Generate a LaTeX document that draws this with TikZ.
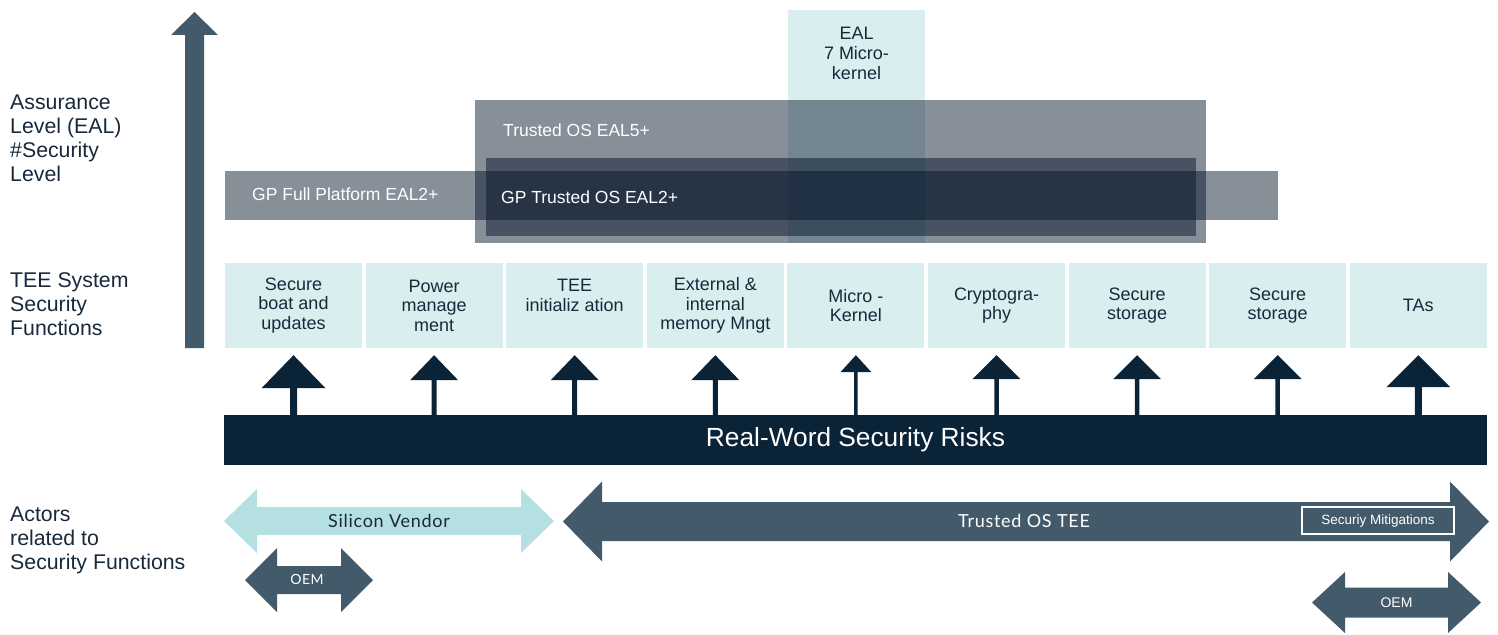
\documentclass[tikz,border=0pt]{standalone}
\usepackage{fontspec}
\setmainfont{Liberation Sans}
\newfontfamily\actorfont[LetterSpace=4.0]{Lato}
\usetikzlibrary{calc}

\definecolor{paleteal}{HTML}{DAEEF0}
\definecolor{lightteal}{HTML}{B5E0E2}
\definecolor{slate}{HTML}{435A6A}
\definecolor{deepnavy}{HTML}{0A2337}
\definecolor{inknavy}{HTML}{17293A}
\definecolor{tint}{RGB}{0,17,37}

% upward block arrow: #1 base, #2 tip, #3 half stem, #4 half head, #5 head length, #6 colour
\newcommand\riskarrow[6]{%
  \fill[#6] ($(#1)+(-#3,0)$) -- ($(#2)+(-#3,#5)$) -- ($(#2)+(-#4,#5)$) -- (#2)
    -- ($(#2)+(#4,#5)$) -- ($(#2)+(#3,#5)$) -- ($(#1)+(#3,0)$) -- cycle;}

% horizontal double block arrow: #1 left tip, #2 right tip, #3 half shaft, #4 half head, #5 head length, #6 colour
\newcommand\twowayarrow[6]{%
  \fill[#6] (#1) -- ($(#1)+(#5,-#4)$) -- ($(#1)+(#5,-#3)$) -- ($(#2)+(-#5,-#3)$)
    -- ($(#2)+(-#5,-#4)$) -- (#2) -- ($(#2)+(-#5,#4)$) -- ($(#2)+(-#5,#3)$)
    -- ($(#1)+(#5,#3)$) -- ($(#1)+(#5,#4)$) -- cycle;}

\begin{document}
\begin{tikzpicture}[x=1pt,y=-1pt,
  sidelabel/.style={anchor=west,align=left,inner sep=0pt,text=inknavy,
    font=\fontsize{21.3}{24}\selectfont},
  functext/.style={align=center,inner sep=0pt,text=inknavy,font=\fontsize{18}{19.5}\selectfont},
  funcbox/.style={functext,fill=paleteal,minimum width=137pt,minimum height=85pt},
  tintbox/.style={fill=tint,fill opacity=0.47,inner sep=0pt},
  boxlabel/.style={anchor=west,inner sep=0pt,text=white,font=\fontsize{17.5}{20}\selectfont},
  actor/.style={inner sep=0pt,font=\actorfont\fontsize{18}{20}\selectfont},
]
\useasboundingbox (0,0) rectangle (1498,634);

% assurance level axis
\coordinate (axis-base) at (194.5,348);
\coordinate (axis-tip) at (194.5,12);
\riskarrow{axis-base}{axis-tip}{9.5}{23.5}{23}{slate}

% row captions
\node[sidelabel] (lab-eal) at (10,138) {Assurance\\Level (EAL)\\\#Security\\Level};
\node[sidelabel] (lab-func) at (10,304) {TEE System\\Security\\Functions};
\node[sidelabel] (lab-act) at (10,540) {Actors\\related to\\Security Functions};

% certification levels
\node[fill=paleteal,minimum width=137pt,minimum height=233pt,inner sep=0pt] (eal7) at (856.5,126.5) {};
\node[align=center,inner sep=0pt,text=inknavy,font=\fontsize{18}{20}\selectfont] (eal7-txt) at (856.5,53) {EAL\\7 Micro-\\kernel};
\node[tintbox,minimum width=731pt,minimum height=143pt] (eal5) at (840.5,171.5) {};
\node[tintbox,minimum width=710pt,minimum height=78pt] (gptos) at (841,197) {};
\node[tintbox,minimum width=1053pt,minimum height=49pt] (gpfull) at (751.5,195.5) {};
\node[boxlabel] (eal5-txt) at (503,130) {Trusted OS EAL5+};
\node[boxlabel] (gptos-txt) at (501,197) {GP Trusted OS EAL2+};
\node[boxlabel] (gpfull-txt) at (252,194) {GP Full Platform EAL2+};

% security functions
\node[funcbox] (f1) at (293.5,305.5) {Secure\\boat and\\updates};
\node[funcbox] (f2) at (434.1,305.5) {Power\\manage\\ment};
\node[funcbox] (f3) at (574.7,305.5) {};
\node[functext] (f3-txt) at ($(f3)+(0,-10)$) {TEE\\initializ ation};
\node[funcbox] (f4) at (715.3,305.5) {External \&\\internal\\memory Mngt};
\node[funcbox] (f5) at (855.9,305.5) {Micro -\\Kernel};
\node[funcbox] (f6) at (996.5,305.5) {Cryptogra-\\phy};
\node[funcbox] (f7) at (1137.1,305.5) {Secure\\storage};
\node[funcbox] (f8) at (1277.7,305.5) {Secure\\storage};
\node[funcbox] (f9) at (1418.3,305.5) {TAs};

% risk bar
\node[fill=deepnavy,minimum width=1263pt,minimum height=50pt,inner sep=0pt,text=white,
  font=\fontsize{26.3}{28}\selectfont] (bar) at (855.5,440) {Real-Word Security Risks};

% arrows from the risks to each function
\foreach \i/\hw/\hl/\sw in {1/32/33/3.5, 2/24/25/2.5, 3/24/25/2.5, 4/24/25/2.5,
    5/15.5/17/1.75, 6/24/24/2.25, 7/24/24/2.25, 8/24/24/2.25, 9/32/32/3.5} {
  \coordinate (rb\i) at (f\i.south |- bar.north);
  \coordinate (rt\i) at ($(f\i.south)+(0,7)$);
  \riskarrow{rb\i}{rt\i}{\sw}{\hw}{\hl}{deepnavy}
}

% actors
\coordinate (sv-l) at (224,521);
\coordinate (sv-r) at (554,521);
\twowayarrow{sv-l}{sv-r}{14}{32}{33}{lightteal}
\node[actor,text=inknavy] (sv) at ($(sv-l)!0.5!(sv-r)$) {Silicon Vendor};

\coordinate (oem1-l) at (245,580);
\coordinate (oem1-r) at (373,580);
\twowayarrow{oem1-l}{oem1-r}{14}{32}{32}{slate}
\node[actor,text=white,font=\actorfont\fontsize{14}{16}\selectfont] (oem1) at (307,579) {OEM};

\coordinate (tos-l) at (563,521.5);
\coordinate (tos-r) at (1489,521.5);
\twowayarrow{tos-l}{tos-r}{19.5}{40}{39}{slate}
\node[actor,text=white] (tos) at (1024,520.5) {Trusted OS TEE};
\node[draw=white,line width=2pt,minimum width=152pt,minimum height=27pt,inner sep=0pt] (mitig) at (1378,520.5) {};
\node[inner sep=0pt,text=white,font=\fontsize{13.5}{15}\selectfont] (mitig-txt) at (1378,521.5) {Securiy Mitigations};

\coordinate (oem2-l) at (1312,602.5);
\coordinate (oem2-r) at (1481,602.5);
\twowayarrow{oem2-l}{oem2-r}{15}{30.5}{33}{slate}
\node[inner sep=0pt,text=white,font=\fontsize{14}{16}\selectfont] (oem2) at ($(oem2-l)!0.5!(oem2-r)$) {OEM};
\end{tikzpicture}
\end{document}
